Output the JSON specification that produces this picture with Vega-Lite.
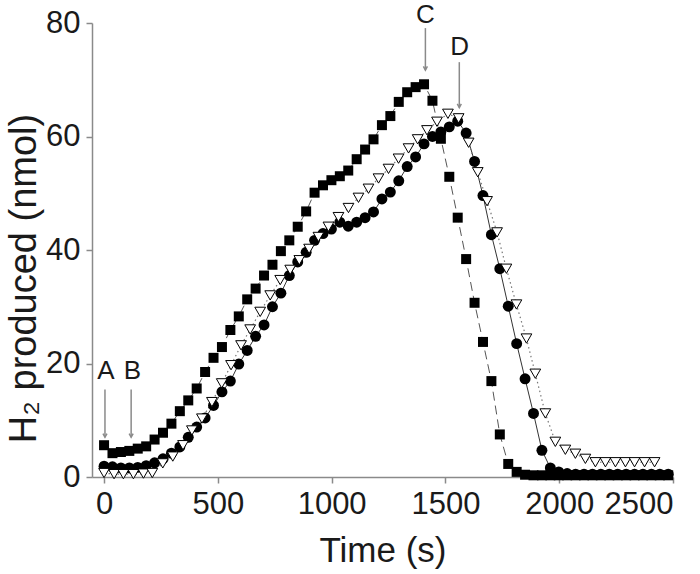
{
  "$schema": "https://vega.github.io/schema/vega-lite/v6.json",
  "autosize": {"type": "none"},
  "width": 581,
  "height": 454,
  "padding": {"left": 92, "top": 23, "right": 27, "bottom": 97},
  "background": "white",
  "config": {
    "view": {"stroke": null},
    "font": "Liberation Sans",
    "axis": {
      "grid": false,
      "domainColor": "#8a8a8a",
      "tickColor": "#8a8a8a",
      "domainWidth": 1.5,
      "tickWidth": 1.5,
      "tickSize": 6,
      "labelFont": "Liberation Sans",
      "labelFontSize": 31,
      "labelColor": "#1a1a1a",
      "labelPadding": 6,
      "titleFont": "Liberation Sans",
      "titleFontSize": 35,
      "titleFontWeight": "normal",
      "titleColor": "#1a1a1a"
    }
  },
  "datasets": {
    "squares": [
      {"t": 0, "v": 5.6}, {"t": 37, "v": 4.2}, {"t": 74, "v": 4.4}, {"t": 111, "v": 4.6},
      {"t": 148, "v": 5.0}, {"t": 185, "v": 5.4}, {"t": 222, "v": 6.6}, {"t": 259, "v": 7.8},
      {"t": 296, "v": 9.4}, {"t": 333, "v": 11.6}, {"t": 370, "v": 13.5}, {"t": 407, "v": 15.6},
      {"t": 444, "v": 18.5}, {"t": 481, "v": 21.0}, {"t": 518, "v": 22.9}, {"t": 555, "v": 25.9},
      {"t": 592, "v": 28.3}, {"t": 629, "v": 31.3}, {"t": 666, "v": 33.2}, {"t": 703, "v": 35.5},
      {"t": 740, "v": 37.4}, {"t": 777, "v": 39.8}, {"t": 814, "v": 41.7}, {"t": 851, "v": 44.1},
      {"t": 888, "v": 46.8}, {"t": 925, "v": 50.1}, {"t": 962, "v": 51.4}, {"t": 999, "v": 52.3},
      {"t": 1036, "v": 53.0}, {"t": 1073, "v": 54.0}, {"t": 1110, "v": 56.0}, {"t": 1147, "v": 57.7},
      {"t": 1184, "v": 59.5}, {"t": 1221, "v": 62.0}, {"t": 1258, "v": 63.6}, {"t": 1295, "v": 66.1},
      {"t": 1332, "v": 67.8}, {"t": 1369, "v": 68.7}, {"t": 1406, "v": 69.2}, {"t": 1443, "v": 66.3},
      {"t": 1480, "v": 59.6}, {"t": 1517, "v": 52.9}, {"t": 1554, "v": 45.7}, {"t": 1591, "v": 38.4},
      {"t": 1628, "v": 30.7}, {"t": 1665, "v": 23.8}, {"t": 1702, "v": 16.9}, {"t": 1739, "v": 7.5},
      {"t": 1776, "v": 2.3}, {"t": 1813, "v": 0.9}, {"t": 1850, "v": 0.4}, {"t": 1887, "v": 0.3},
      {"t": 1924, "v": 0.3}, {"t": 1961, "v": 0.3}, {"t": 1998, "v": 0.3}, {"t": 2035, "v": 0.3},
      {"t": 2072, "v": 0.3}, {"t": 2109, "v": 0.3}, {"t": 2146, "v": 0.3}, {"t": 2183, "v": 0.3},
      {"t": 2220, "v": 0.3}, {"t": 2257, "v": 0.3}, {"t": 2294, "v": 0.3}, {"t": 2331, "v": 0.3},
      {"t": 2368, "v": 0.3}, {"t": 2405, "v": 0.3}, {"t": 2442, "v": 0.3}, {"t": 2479, "v": 0.3}
    ],
    "circles": [
      {"t": 0, "v": 1.9}, {"t": 37, "v": 1.8}, {"t": 74, "v": 1.6}, {"t": 111, "v": 1.6},
      {"t": 148, "v": 1.7}, {"t": 185, "v": 2.0}, {"t": 222, "v": 2.5}, {"t": 259, "v": 3.2},
      {"t": 296, "v": 4.2}, {"t": 333, "v": 5.3}, {"t": 370, "v": 7.0}, {"t": 407, "v": 8.8},
      {"t": 444, "v": 10.4}, {"t": 481, "v": 12.6}, {"t": 518, "v": 15.0}, {"t": 555, "v": 16.9},
      {"t": 592, "v": 19.9}, {"t": 629, "v": 22.3}, {"t": 666, "v": 24.8}, {"t": 703, "v": 26.8},
      {"t": 740, "v": 30.0}, {"t": 777, "v": 32.4}, {"t": 814, "v": 35.5}, {"t": 851, "v": 37.9},
      {"t": 888, "v": 39.6}, {"t": 925, "v": 41.7}, {"t": 962, "v": 42.9}, {"t": 999, "v": 43.7},
      {"t": 1036, "v": 44.9}, {"t": 1073, "v": 44.2}, {"t": 1110, "v": 44.9}, {"t": 1147, "v": 45.7},
      {"t": 1184, "v": 46.7}, {"t": 1221, "v": 49.0}, {"t": 1258, "v": 50.2}, {"t": 1295, "v": 52.2},
      {"t": 1332, "v": 54.7}, {"t": 1369, "v": 56.4}, {"t": 1406, "v": 58.7}, {"t": 1443, "v": 60.0},
      {"t": 1480, "v": 60.8}, {"t": 1517, "v": 61.7}, {"t": 1554, "v": 62.7}, {"t": 1591, "v": 60.6},
      {"t": 1628, "v": 55.6}, {"t": 1665, "v": 49.6}, {"t": 1702, "v": 42.7}, {"t": 1739, "v": 36.7},
      {"t": 1776, "v": 30.1}, {"t": 1813, "v": 23.5}, {"t": 1850, "v": 17.3}, {"t": 1887, "v": 11.2},
      {"t": 1924, "v": 4.7}, {"t": 1961, "v": 1.6}, {"t": 1998, "v": 0.9}, {"t": 2035, "v": 0.6},
      {"t": 2072, "v": 0.5}, {"t": 2109, "v": 0.5}, {"t": 2146, "v": 0.5}, {"t": 2183, "v": 0.5},
      {"t": 2220, "v": 0.5}, {"t": 2257, "v": 0.5}, {"t": 2294, "v": 0.5}, {"t": 2331, "v": 0.5},
      {"t": 2368, "v": 0.5}, {"t": 2405, "v": 0.5}, {"t": 2442, "v": 0.5}, {"t": 2479, "v": 0.5}
    ],
    "triangles": [
      {"t": 0, "v": 0.7}, {"t": 44, "v": 0.5}, {"t": 85, "v": 0.5}, {"t": 129, "v": 0.5},
      {"t": 173, "v": 0.6}, {"t": 212, "v": 0.7}, {"t": 258, "v": 2.4}, {"t": 302, "v": 3.6},
      {"t": 347, "v": 5.6}, {"t": 386, "v": 8.2}, {"t": 430, "v": 10.3}, {"t": 474, "v": 13.2},
      {"t": 517, "v": 16.5}, {"t": 558, "v": 19.7}, {"t": 602, "v": 23.2}, {"t": 642, "v": 26.0},
      {"t": 686, "v": 29.1}, {"t": 730, "v": 32.0}, {"t": 774, "v": 34.7}, {"t": 818, "v": 36.5},
      {"t": 858, "v": 38.2}, {"t": 901, "v": 40.2}, {"t": 942, "v": 42.3}, {"t": 986, "v": 44.1},
      {"t": 1030, "v": 45.8}, {"t": 1074, "v": 47.4}, {"t": 1118, "v": 49.2}, {"t": 1162, "v": 50.8},
      {"t": 1206, "v": 52.6}, {"t": 1250, "v": 54.3}, {"t": 1294, "v": 56.1}, {"t": 1338, "v": 57.9},
      {"t": 1378, "v": 59.5}, {"t": 1419, "v": 61.1}, {"t": 1463, "v": 62.6}, {"t": 1511, "v": 64.0},
      {"t": 1558, "v": 63.2}, {"t": 1602, "v": 58.9}, {"t": 1642, "v": 53.7}, {"t": 1683, "v": 48.6},
      {"t": 1727, "v": 43.1}, {"t": 1768, "v": 36.7}, {"t": 1812, "v": 30.4}, {"t": 1856, "v": 24.4},
      {"t": 1895, "v": 18.2}, {"t": 1939, "v": 11.2}, {"t": 1983, "v": 6.2}, {"t": 2027, "v": 4.8},
      {"t": 2071, "v": 4.1}, {"t": 2115, "v": 3.2}, {"t": 2159, "v": 2.6}, {"t": 2203, "v": 2.6},
      {"t": 2247, "v": 2.6}, {"t": 2291, "v": 2.6}, {"t": 2331, "v": 2.6}, {"t": 2375, "v": 2.6},
      {"t": 2419, "v": 2.6}
    ],
    "arrows": [
      {"label": "A", "t": 4, "top": 15.4, "tip": 7.0, "tl": 8, "yl": 18.7},
      {"label": "B", "t": 119, "top": 15.4, "tip": 7.0, "tl": 125, "yl": 18.7},
      {"label": "C", "t": 1412, "top": 79.1, "tip": 71.7, "tl": 1412, "yl": 81.4},
      {"label": "D", "t": 1561, "top": 73.1, "tip": 65.1, "tl": 1563, "yl": 75.8}
    ]
  },
  "layer": [
    {
      "data": {"name": "squares"},
      "mark": {"type": "line", "color": "#555555", "strokeWidth": 1, "strokeDash": [9, 5]},
      "encoding": {
        "x": {"field": "t", "type": "quantitative", "scale": {"domain": [-53, 2500], "nice": false, "zero": false},
              "axis": {"values": [0, 500, 1000, 1500, 2000, 2500], "format": "d", "title": "Time (s)", "titlePadding": 14}},
        "y": {"field": "v", "type": "quantitative", "scale": {"domain": [0, 80], "nice": false},
              "axis": {"values": [0, 20, 40, 60, 80], "format": "d", "title": "H₂ produced (nmol)", "titleFontSize": 38, "titlePadding": 2, "titleY": 255}}
      }
    },
    {
      "data": {"name": "circles"},
      "mark": {"type": "line", "color": "#333333", "strokeWidth": 1},
      "encoding": {"x": {"field": "t", "type": "quantitative"}, "y": {"field": "v", "type": "quantitative"}}
    },
    {
      "data": {"name": "triangles"},
      "mark": {"type": "line", "color": "#777777", "strokeWidth": 1.2, "strokeDash": [1.5, 3]},
      "encoding": {"x": {"field": "t", "type": "quantitative"}, "y": {"field": "v", "type": "quantitative"}}
    },
    {
      "data": {"name": "circles"},
      "mark": {"type": "point", "shape": "circle", "filled": true, "color": "black", "size": 120, "opacity": 1},
      "encoding": {"x": {"field": "t", "type": "quantitative"}, "y": {"field": "v", "type": "quantitative"}}
    },
    {
      "data": {"name": "triangles"},
      "mark": {"type": "point", "shape": "triangle-down", "filled": true, "fill": "white", "stroke": "black", "strokeWidth": 1, "size": 115, "opacity": 1},
      "encoding": {"x": {"field": "t", "type": "quantitative"}, "y": {"field": "v", "type": "quantitative"}}
    },
    {
      "data": {"name": "squares"},
      "mark": {"type": "point", "shape": "square", "filled": true, "color": "black", "size": 100, "opacity": 1},
      "encoding": {"x": {"field": "t", "type": "quantitative"}, "y": {"field": "v", "type": "quantitative"}}
    },
    {
      "data": {"name": "arrows"},
      "mark": {"type": "rule", "color": "#8a8a8a", "strokeWidth": 1.5},
      "encoding": {"x": {"field": "t", "type": "quantitative"}, "y": {"field": "top", "type": "quantitative"}, "y2": {"field": "tip"}}
    },
    {
      "data": {"name": "arrows"},
      "mark": {"type": "point", "shape": "M-0.8,-1.5L0,0L0.8,-1.5", "filled": false, "stroke": "#8a8a8a", "strokeWidth": 1.5, "size": 25, "opacity": 1},
      "encoding": {"x": {"field": "t", "type": "quantitative"}, "y": {"field": "tip", "type": "quantitative"}}
    },
    {
      "data": {"name": "arrows"},
      "mark": {"type": "text", "font": "Liberation Sans", "fontSize": 26, "color": "#1a1a1a", "baseline": "middle", "align": "center"},
      "encoding": {"x": {"field": "tl", "type": "quantitative"}, "y": {"field": "yl", "type": "quantitative"}, "text": {"field": "label"}}
    }
  ]
}
